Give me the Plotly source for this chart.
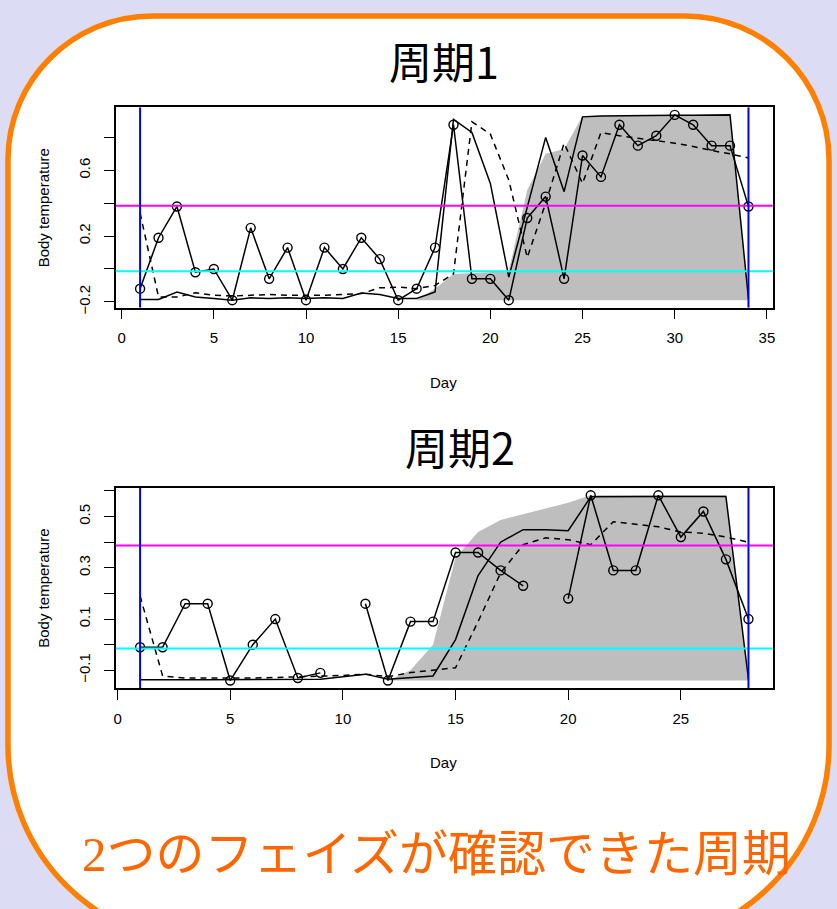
import plotly.graph_objects as go

W, H = 837, 909

# ---------------- data ----------------
# Cycle 1
days1 = list(range(1, 35))
temp1 = [-0.12, 0.19, 0.38, -0.02, 0.0, -0.19, 0.25, -0.06, 0.13, -0.19,
         0.13, 0.0, 0.19, 0.06, -0.19, -0.12, 0.13, 0.877, -0.06, -0.06,
         -0.19, 0.31, 0.44, -0.06, 0.69, 0.56, 0.877, 0.75, 0.81, 0.937,
         0.877, 0.75, 0.75, 0.38]
level1 = [-0.186, -0.186, -0.14, -0.17, -0.18, -0.19, -0.175, -0.18, -0.175, -0.18,
          -0.175, -0.18, -0.146, -0.155, -0.18, -0.18, -0.14, 0.91, 0.83, 0.52,
          -0.05, 0.38, 0.80, 0.47, 0.925, 0.93, 0.932, 0.933, 0.934, 0.935,
          0.935, 0.936, 0.937, -0.18]
smooth1 = [0.34, -0.17, -0.17, -0.145, -0.16, -0.165, -0.16, -0.155, -0.16, -0.16,
           -0.16, -0.155, -0.15, -0.115, -0.11, -0.12, -0.10, -0.03, 0.895, 0.82,
           0.54, 0.07, 0.40, 0.765, 0.52, 0.83, 0.81, 0.795, 0.78, 0.765,
           0.745, 0.72, 0.70, 0.675]
prob1 = [-0.19] * 16 + [-0.12, -0.03, -0.025, -0.02, -0.01, 0.48, 0.70, 0.73,
                        0.93, 0.932, 0.934, 0.935, 0.936, 0.937, 0.937, 0.937, 0.937, -0.19]
base1 = -0.19
high1 = 0.385
low1 = -0.014

# Cycle 2
days2 = list(range(1, 29))
temp2 = [-0.01, -0.01, 0.16, 0.16, -0.14, 0.0, 0.10, -0.13, -0.11, None,
         0.16, -0.14, 0.09, 0.09, 0.36, 0.36, 0.29, 0.23, None, 0.18,
         0.583, 0.29, 0.29, 0.583, 0.42, 0.52, 0.333, 0.10]
level2 = [-0.137, -0.138, -0.137, -0.137, -0.137, -0.137, -0.136, -0.136, -0.135, -0.125,
          -0.115, -0.135, -0.128, -0.122, 0.02, 0.27, 0.40, 0.449, 0.449, 0.445,
          0.577, 0.578, 0.578, 0.578, 0.578, 0.578, 0.578, -0.135]
smooth2 = [0.19, -0.122, -0.13, -0.13, -0.131, -0.13, -0.128, -0.126, -0.124, -0.12,
           -0.115, -0.125, -0.109, -0.10, -0.09, 0.09, 0.28, 0.39, 0.417, 0.41,
           0.39, 0.48, 0.47, 0.46, 0.44, 0.435, 0.42, 0.40]
prob2 = [-0.14] * 12 + [-0.10, 0.0, 0.34, 0.44, 0.487, 0.51, 0.53, 0.554,
                        0.583, 0.583, 0.583, 0.583, 0.583, 0.583, 0.583, -0.14]
base2 = -0.14
high2 = 0.387
low2 = -0.015

yt1 = [-0.2, 0.0, 0.2, 0.4, 0.6, 0.8]
yl1 = ["−0.2", "", "0.2", "", "0.6", ""]
yt2 = [-0.1, 0.0, 0.1, 0.2, 0.3, 0.4, 0.5, 0.6]
yl2 = ["−0.1", "", "0.1", "", "0.3", "", "0.5", ""]
xt1 = [0, 5, 10, 15, 20, 25, 30, 35]
xt2 = [0, 5, 10, 15, 20, 25]

titles = ["周期1", "周期2"]
caption = "2つのフェイズが確認できた周期"

# ---------------- helpers ----------------
def px(x):
    return x / W

def py(y):
    return 1 - y / H

def rng(vals):
    a, b = min(vals), max(vals)
    r = b - a
    return [a - 0.04 * r, b + 0.04 * r]

fig = go.Figure()

panels = [
    dict(days=days1, temp=temp1, level=level1, smooth=smooth1, prob=prob1, base=base1,
         high=high1, low=low1, yt=yt1, yl=yl1, xt=xt1, top=108.3, bot=310.0, xa="x", ya="y",
         tx=444, ty=60),
    dict(days=days2, temp=temp2, level=level2, smooth=smooth2, prob=prob2, base=base2,
         high=high2, low=low2, yt=yt2, yl=yl2, xt=xt2, top=491.7, bot=693.3, xa="x2", ya="y2",
         tx=460, ty=449),
]

LEFT, RIGHT = 114.3, 774.5

for i, p in enumerate(panels):
    n = len(p["days"])
    xa, ya = p["xa"], p["ya"]
    # gray probability area
    fig.add_trace(go.Scatter(x=p["days"], y=[p["base"]] * n, mode="lines",
                             line=dict(width=0, color="#BEBEBE"), xaxis=xa, yaxis=ya,
                             hoverinfo="skip", showlegend=False))
    fig.add_trace(go.Scatter(x=p["days"], y=p["prob"], mode="lines", fill="tonexty",
                             fillcolor="#BEBEBE", line=dict(width=0, color="#BEBEBE"),
                             xaxis=xa, yaxis=ya, showlegend=False))
    # solid level line
    fig.add_trace(go.Scatter(x=p["days"], y=p["level"], mode="lines",
                             line=dict(color="black", width=1.5), xaxis=xa, yaxis=ya,
                             showlegend=False))
    # dashed smooth line
    fig.add_trace(go.Scatter(x=p["days"], y=p["smooth"], mode="lines",
                             line=dict(color="black", width=1.5, dash="6px,5px"),
                             xaxis=xa, yaxis=ya, showlegend=False))
    # observed temperatures
    fig.add_trace(go.Scatter(x=p["days"], y=p["temp"], mode="lines+markers",
                             line=dict(color="black", width=1.5),
                             marker=dict(symbol="circle-open", size=9, color="black",
                                         line=dict(width=1.4)),
                             connectgaps=False, xaxis=xa, yaxis=ya, showlegend=False))

    vals = [v for v in p["temp"] + p["level"] + p["smooth"] + p["prob"] if v is not None]
    yr = rng(vals)
    xr = rng(p["days"])
    dom_y = [py(p["bot"]), py(p["top"])]
    axis_common = dict(showline=True, linecolor="black", linewidth=1.5, mirror=True,
                       ticks="outside", ticklen=10, tickwidth=1.3, tickcolor="black",
                       showgrid=False, zeroline=False,
                       tickfont=dict(family="Liberation Sans, Arial", size=15, color="black"))
    xname = "xaxis" if i == 0 else "xaxis2"
    yname = "yaxis" if i == 0 else "yaxis2"
    fig.update_layout(**{
        xname: dict(domain=[px(LEFT), px(RIGHT)], range=xr, tickvals=p["xt"],
                    anchor=ya, ticklabelstandoff=6, **axis_common),
        yname: dict(domain=dom_y, range=yr, tickvals=p["yt"], ticktext=p["yl"],
                    tickangle=-90, anchor=xa, ticklabelstandoff=8, **axis_common),
    })
    # reference lines
    fig.add_shape(type="line", xref=xa + " domain", yref=ya, x0=0, x1=1,
                  y0=p["high"], y1=p["high"], line=dict(color="#FF00FF", width=2))
    fig.add_shape(type="line", xref=xa + " domain", yref=ya, x0=0, x1=1,
                  y0=p["low"], y1=p["low"], line=dict(color="#00FFFF", width=2))
    for d in (p["days"][0], p["days"][-1]):
        fig.add_shape(type="line", xref=xa, yref=ya + " domain", x0=d, x1=d,
                      y0=0, y1=1, line=dict(color="#0000FF", width=2))

    # titles
    fig.add_annotation(text=titles[i], xref="paper", yref="paper", x=px(p["tx"]), y=py(p["ty"]),
                       showarrow=False, xanchor="center", yanchor="middle",
                       font=dict(family="Noto Sans CJK JP", size=43, color="black"))
    fig.add_annotation(text="Day", xref="paper", yref="paper", x=px(444),
                       y=py(p["bot"] + 75), showarrow=False, xanchor="center",
                       yanchor="middle",
                       font=dict(family="Liberation Sans, Arial", size=15, color="black"))
    fig.add_annotation(text="Body temperature", xref="paper", yref="paper", x=px(42),
                       y=py((p["top"] + p["bot"]) / 2), showarrow=False, textangle=-90,
                       xanchor="center", yanchor="middle",
                       font=dict(family="Liberation Sans, Arial", size=15, color="black"))

# caption
fig.add_annotation(text='<span style="font-family:Liberation Serif">2</span>' + caption[1:],
                   xref="paper", yref="paper", x=px(437), y=py(856), showarrow=False,
                   xanchor="center", yanchor="middle",
                   font=dict(family="Noto Sans CJK JP", size=49, color="#FF6600"))

# rounded card
def card_path(L, T, R, B, rt, rb):
    k = 0.5523
    s = f"M {px(L + rt)},{py(T)} L {px(R - rt)},{py(T)} "
    s += (f"C {px(R - rt + k * rt)},{py(T)} {px(R)},{py(T + rt - k * rt)} {px(R)},{py(T + rt)} ")
    s += f"L {px(R)},{py(B - rb)} "
    s += (f"C {px(R)},{py(B - rb + k * rb)} {px(R - rb + k * rb)},{py(B)} {px(R - rb)},{py(B)} ")
    s += f"L {px(L + rb)},{py(B)} "
    s += (f"C {px(L + rb - k * rb)},{py(B)} {px(L)},{py(B - rb + k * rb)} {px(L)},{py(B - rb)} ")
    s += f"L {px(L)},{py(T + rt)} "
    s += (f"C {px(L)},{py(T + rt - k * rt)} {px(L + rt - k * rt)},{py(T)} {px(L + rt)},{py(T)} Z")
    return s

fig.add_shape(type="path", xref="paper", yref="paper", path=card_path(6, 16, 831, 951, 145, 200),
              fillcolor="white", line=dict(color="#FF7F00", width=5.5), layer="below")

fig.update_layout(width=W, height=H, margin=dict(l=0, r=0, t=0, b=0),
                  paper_bgcolor="#DCDCF5", plot_bgcolor="white", showlegend=False)

fig.write_html("out.html", config={"displayModeBar": False},
               post_script="document.body.style.margin='0';"
                           "document.body.style.overflow='hidden';"
                           "document.body.style.background='#DCDCF5';")
